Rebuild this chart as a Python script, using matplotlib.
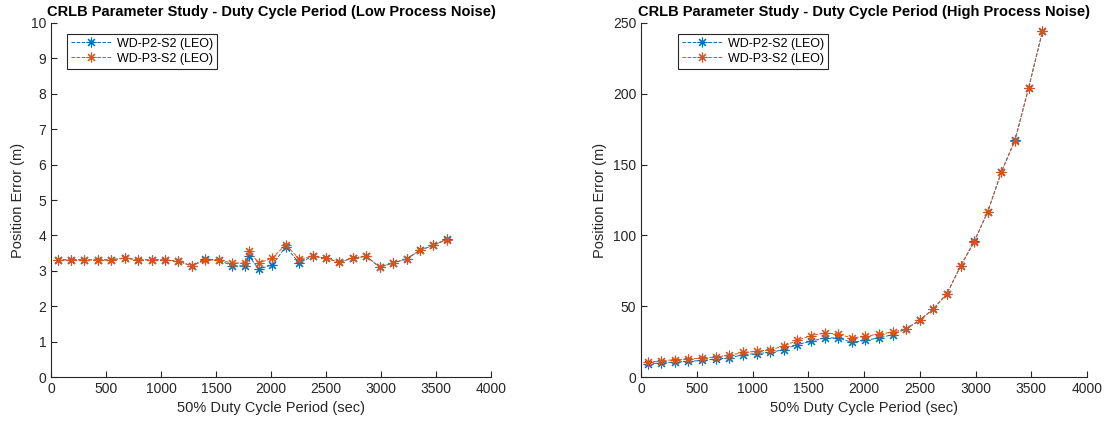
import numpy as np
import matplotlib
matplotlib.use("Agg")
import matplotlib.pyplot as plt

##########  DATA  ##########
# 50% duty cycle period (sec)
x_low = [60, 182, 304, 426, 548, 670, 792, 914, 1036, 1158, 1280, 1402, 1524, 1646,
         1768, 1800, 1890, 2012, 2134, 2256, 2378, 2500, 2622, 2744, 2866, 2988,
         3110, 3232, 3354, 3476, 3600]
p2_low = [3.31, 3.31, 3.31, 3.31, 3.31, 3.36, 3.31, 3.31, 3.31, 3.27, 3.14, 3.33, 3.31, 3.14,
          3.14, 3.41, 3.05, 3.17, 3.68, 3.22, 3.41, 3.36, 3.24, 3.36, 3.41, 3.10,
          3.22, 3.34, 3.58, 3.72, 3.90]
p3_low = [3.31, 3.31, 3.31, 3.31, 3.31, 3.36, 3.31, 3.31, 3.31, 3.27, 3.14, 3.30, 3.31, 3.22,
          3.22, 3.55, 3.22, 3.36, 3.74, 3.33, 3.41, 3.36, 3.24, 3.36, 3.41, 3.11,
          3.22, 3.33, 3.58, 3.72, 3.88]

x_high = [60, 182, 304, 426, 548, 670, 792, 914, 1036, 1158, 1280, 1402, 1524, 1646,
          1768, 1890, 2012, 2134, 2256, 2378, 2500, 2622, 2744, 2866, 2988, 3110,
          3232, 3354, 3476, 3600]
p2_high = [9.4, 9.9, 10.6, 11.0, 11.7, 12.7, 13.4, 15.8, 16.5, 17.4, 19.3, 22.9, 25.2, 27.6,
           27.6, 24.5, 25.9, 27.6, 29.9, 34.0, 40.1, 48.1, 58.9, 78.3, 95.8, 116.8,
           144.8, 167.5, 204.0, 244.0]
p3_high = [10.3, 11.5, 12.2, 12.7, 13.4, 14.1, 15.3, 17.4, 18.1, 19.3, 21.7, 25.9, 29.2, 31.1,
           30.4, 27.6, 28.7, 30.4, 31.6, 34.0, 40.1, 48.1, 58.9, 78.3, 95.3, 116.8,
           144.8, 166.8, 204.0, 244.0]

labels = ["WD-P2-S2 (LEO)", "WD-P3-S2 (LEO)"]
titles = ["CRLB Parameter Study - Duty Cycle Period (Low Process Noise)",
          "CRLB Parameter Study - Duty Cycle Period (High Process Noise)"]
###

plt.rcParams['font.family'] = ['Liberation Sans', 'DejaVu Sans']
txt = '#262626'
blue = '#0072BD'
orange = '#D95319'
star = (8, 2, 0)

fig = plt.figure(figsize=(11.05, 4.23), dpi=100)
ax1 = fig.add_axes([51/1105, 46/423, 440/1105, 354/423])
ax2 = fig.add_axes([641/1105, 46/423, 446/1105, 354/423])

for ax, x, a, b, t, ymax, ystep, lx in [
        (ax1, x_low, p2_low, p3_low, titles[0], 10, 1, 0.036),
        (ax2, x_high, p2_high, p3_high, titles[1], 250, 50, 0.083)]:
    ax.plot(x, a, '--', color=blue, lw=0.7, marker=star, ms=7, mew=0.8, label=labels[0])
    ax.plot(x, b, '--', color=orange, lw=0.7, marker=star, ms=7, mew=0.8, label=labels[1])
    ax.set_xlim(0, 4000)
    ax.set_ylim(0, ymax)
    ax.set_xticks(np.arange(0, 4001, 500))
    ax.set_yticks(np.arange(0, ymax + 1, ystep))
    ax.spines['top'].set_visible(False)
    ax.spines['right'].set_visible(False)
    for s in ['left', 'bottom']:
        ax.spines[s].set_color(txt)
        ax.spines[s].set_linewidth(0.8)
    ax.tick_params(direction='in', length=4, width=0.8, colors=txt, labelsize=10)
    ax.set_xlabel("50% Duty Cycle Period (sec)", fontsize=10.5, color=txt)
    ax.set_ylabel("Position Error (m)", fontsize=10.5, color=txt)
    ax.set_title(t, fontsize=10.5, fontweight='bold', color='black', pad=5)
    leg = ax.legend(loc='upper left', bbox_to_anchor=(lx, 0.969), borderaxespad=0,
                    fontsize=9, fancybox=False, framealpha=1, handlelength=3.3,
                    borderpad=0.3, labelspacing=0.25, handletextpad=0.4)
    leg.get_frame().set_edgecolor(txt)
    leg.get_frame().set_linewidth(0.8)

fig.savefig("out.png", dpi=100)
